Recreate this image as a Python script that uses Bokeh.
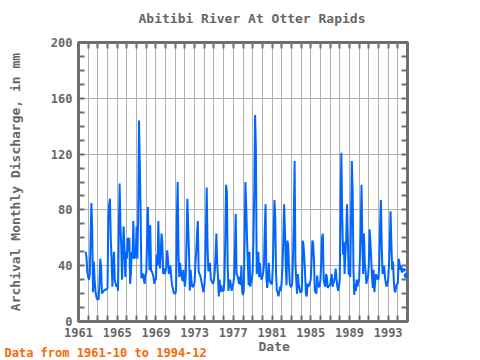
import math
from bokeh.plotting import figure
from bokeh.models import FixedTicker, LinearAxis, Title, Range1d, ColumnDataSource
from bokeh.embed import file_html
from bokeh.resources import INLINE

# ---- data: monthly discharge (mm), 1961-10 .. 1994-12 ----
start_year = 1961
start_month = 10
y1961 = [50, 45, 35]
y1962 = [32, 30, 34, 59, 85, 66, 21, 43, 30, 22, 18, 16]
y1963 = [16, 16, 28, 45, 39, 20, 21, 22, 22, 23, 23, 23]
y1964 = [24, 75, 84, 88, 60, 45, 25, 40, 50, 30, 27, 25]
y1965 = [27, 22, 65, 99, 68, 55, 30, 50, 68, 52, 32, 50]
y1966 = [45, 60, 50, 60, 27, 35, 50, 45, 72, 45, 46, 48]
y1967 = [68, 45, 75, 144, 114, 80, 31, 34, 34, 30, 27, 34]
y1968 = [34, 57, 82, 59, 37, 69, 36, 36, 34, 32, 27, 30]
y1969 = [30, 48, 40, 72, 48, 38, 50, 63, 56, 34, 38, 34]
y1970 = [36, 40, 51, 45, 34, 38, 40, 32, 26, 24, 21, 20]
y1971 = [20, 22, 75, 100, 48, 32, 42, 36, 32, 29, 37, 30]
y1972 = [25, 32, 58, 88, 69, 50, 22, 37, 30, 25, 25, 26]
y1973 = [28, 42, 50, 63, 72, 36, 34, 33, 30, 27, 24, 21]
y1974 = [25, 34, 65, 96, 55, 36, 38, 42, 31, 29, 28, 27]
y1975 = [30, 36, 48, 63, 42, 32, 18, 30, 21, 26, 22, 22]
y1976 = [22, 30, 59, 98, 93, 40, 22, 27, 30, 26, 22, 25]
y1977 = [27, 32, 51, 77, 34, 33, 31, 27, 32, 26, 40, 21]
y1978 = [19, 22, 59, 100, 82, 60, 42, 26, 50, 25, 28, 30]
y1979 = [36, 60, 95, 148, 124, 34, 42, 50, 32, 42, 33, 30]
y1980 = [32, 35, 40, 66, 84, 32, 24, 30, 42, 30, 28, 27]
y1981 = [27, 40, 63, 87, 75, 34, 22, 21, 18, 21, 25, 22]
y1982 = [29, 40, 59, 84, 66, 40, 26, 58, 55, 40, 27, 25]
y1983 = [25, 27, 45, 72, 115, 42, 30, 20, 34, 27, 24, 21]
y1984 = [21, 22, 58, 55, 46, 34, 20, 18, 27, 25, 26, 28]
y1985 = [30, 43, 58, 56, 45, 22, 21, 20, 33, 26, 25, 25]
y1986 = [30, 42, 60, 63, 30, 27, 25, 34, 32, 24, 25, 26]
y1987 = [26, 30, 34, 25, 27, 29, 32, 38, 30, 25, 22, 25]
y1988 = [30, 88, 121, 77, 48, 57, 34, 48, 60, 84, 60, 34]
y1989 = [34, 32, 75, 115, 93, 37, 19, 27, 22, 30, 25, 28]
y1990 = [30, 46, 68, 98, 57, 34, 63, 42, 36, 27, 30, 32]
y1991 = [40, 66, 57, 45, 32, 24, 37, 21, 30, 34, 30, 33]
y1992 = [30, 42, 68, 87, 56, 34, 38, 40, 32, 28, 25, 27]
y1993 = [30, 40, 56, 79, 56, 37, 43, 30, 22, 21, 25, 27]
y1994 = [27, 45, 42, 37, 40, 35, 38, 37, 36, 38, None, 33]

x_tick_labels = ["1961", "1965", "1969", "1973", "1977", "1981", "1985", "1989", "1993"]
y_tick_labels = ["0", "40", "80", "120", "160", "200"]

title_text = "Abitibi River At Otter Rapids"
y_title = "Archival Monthly Discharge, in mm"
x_title = "Date"
footer_text = "Data from 1961-10 to 1994-12"

years = [y1961, y1962, y1963, y1964, y1965, y1966, y1967, y1968, y1969, y1970,
         y1971, y1972, y1973, y1974, y1975, y1976, y1977, y1978, y1979, y1980,
         y1981, y1982, y1983, y1984, y1985, y1986, y1987, y1988, y1989, y1990,
         y1991, y1992, y1993, y1994]

vals = []
for yl in years:
    vals.extend([float("nan") if v is None else float(v) for v in yl])
xs = [start_year + (start_month - 1 + i) / 12.0 for i in range(len(vals))]

# isolated points (neighbours missing) drawn as dots
iso_x, iso_y = [], []
for i, v in enumerate(vals):
    if math.isnan(v):
        continue
    prev_nan = i == 0 or math.isnan(vals[i - 1])
    next_nan = i == len(vals) - 1 or math.isnan(vals[i + 1])
    if prev_nan and next_nan:
        iso_x.append(xs[i]); iso_y.append(v)

FONT = "DejaVu Sans Mono"
GRAY = "#6e6e6e"
TXT = "#666666"
BLUE = "#0066ff"

p = figure(width=470, height=358, output_backend="svg", toolbar_location=None,
           x_range=Range1d(1961, 1995), y_range=Range1d(0, 200),
           x_axis_location=None, y_axis_location=None, title=None)
p.min_border_left = 78
p.min_border_right = 63
p.min_border_top = 41
p.min_border_bottom = 37
p.background_fill_color = "white"
p.border_fill_color = "white"
p.outline_line_color = GRAY
p.outline_line_width = 3

year_ticks = list(range(1961, 1996))
y_ticks = list(range(0, 201, 10))
x_over = {t: (str(t) if str(t) in x_tick_labels else "") for t in year_ticks}
y_over = {t: (str(t) if str(t) in y_tick_labels else "") for t in y_ticks}


def style(ax, labels):
    ax.axis_line_color = None
    ax.major_tick_in = 6
    ax.major_tick_out = 0
    ax.minor_tick_in = 0
    ax.minor_tick_out = 0
    ax.major_tick_line_color = GRAY
    ax.major_tick_line_width = 2
    ax.major_label_text_font = FONT
    ax.major_label_text_font_size = "12px"
    ax.major_label_text_font_style = "bold"
    ax.major_label_text_color = TXT
    ax.axis_label_text_font = FONT
    ax.axis_label_text_font_size = "13px"
    ax.axis_label_text_font_style = "bold"
    ax.axis_label_text_color = TXT
    if not labels:
        ax.major_label_text_alpha = 0


bottom = LinearAxis(ticker=FixedTicker(ticks=year_ticks, minor_ticks=[]),
                    major_label_overrides=x_over)
style(bottom, True)
bottom.major_label_standoff = 6
top = LinearAxis(ticker=FixedTicker(ticks=year_ticks, minor_ticks=[]))
style(top, False)
left = LinearAxis(ticker=FixedTicker(ticks=y_ticks, minor_ticks=[]),
                  major_label_overrides=y_over, axis_label=y_title)
style(left, True)
left.major_label_standoff = 6
left.axis_label_standoff = 25
right = LinearAxis(ticker=FixedTicker(ticks=y_ticks, minor_ticks=[]))
style(right, False)
p.add_layout(bottom, "below")
p.add_layout(top, "above")
p.add_layout(left, "left")
p.add_layout(right, "right")

# invisible spacer axis above the frame (one hidden tick, no label)
spacer = LinearAxis(ticker=FixedTicker(ticks=[1961], minor_ticks=[]),
                    major_label_overrides={1961: ""},
                    axis_line_color=None, major_tick_in=0, major_tick_out=9,
                    minor_tick_in=0, minor_tick_out=0, major_label_standoff=0,
                    major_label_text_font_size="0px",
                    major_tick_line_color=None)
p.add_layout(spacer, "above")

p.xgrid.ticker = FixedTicker(ticks=year_ticks, minor_ticks=[])
p.ygrid.ticker = FixedTicker(ticks=[40, 80, 120, 160], minor_ticks=[])
for g in (p.xgrid, p.ygrid):
    g.grid_line_color = "#b0b0b0"
    g.grid_line_width = 1

src = ColumnDataSource(data=dict(x=xs, y=vals))
p.line("x", "y", source=src, line_color=BLUE, line_width=2)
p.scatter(iso_x, iso_y, size=5, color=BLUE)

p.add_layout(Title(text=title_text, align="left", offset=60, standoff=16,
                   text_font=FONT, text_font_size="13px", text_font_style="bold",
                   text_color=TXT), "above")
p.add_layout(Title(text=x_title, align="left", offset=180, standoff=-1,
                   vertical_align="top",
                   text_font=FONT, text_font_size="13px", text_font_style="bold",
                   text_color=TXT), "below")
p.add_layout(Title(text=footer_text, align="left", offset=-74, standoff=-20,
                   vertical_align="top",
                   text_font=FONT, text_font_size="12px", text_font_style="bold",
                   text_color="#ff6600"), "below")

open("out.html", "w").write(file_html(p, INLINE))
